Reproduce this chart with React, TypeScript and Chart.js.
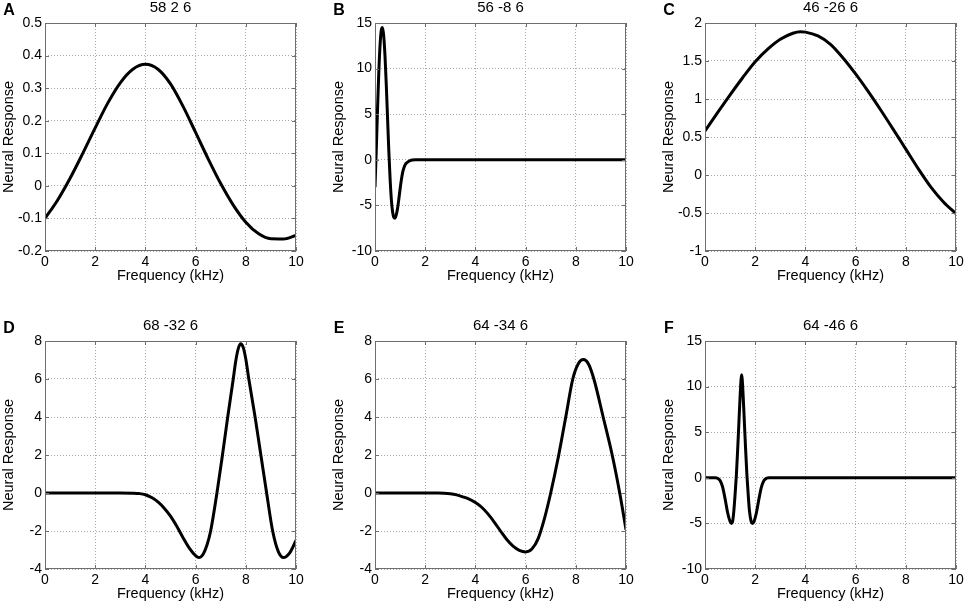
import React, { useEffect, useRef } from "react";
import { Chart, registerables } from "chart.js";

Chart.register(...registerables);

// ---------------- data ----------------
const PANEL_LETTERS = ["A", "B", "C", "D", "E", "F"];
const PANEL_TITLES = ["58 2 6", "56 -8 6", "46 -26 6", "68 -32 6", "64 -34 6", "64 -46 6"];
const X_LABEL = "Frequency (kHz)";
const Y_LABEL = "Neural Response";
const X_TICKS = [0, 2, 4, 6, 8, 10];

const A_TICKS = [-0.2, -0.1, 0, 0.1, 0.2, 0.3, 0.4, 0.5];
const B_TICKS = [-10, -5, 0, 5, 10, 15];
const C_TICKS = [-1, -0.5, 0, 0.5, 1, 1.5, 2];
const D_TICKS = [-4, -2, 0, 2, 4, 6, 8];
const E_TICKS = [-4, -2, 0, 2, 4, 6, 8];
const F_TICKS = [-10, -5, 0, 5, 10, 15];

const A_FREQ = [0, 0.5, 1, 1.5, 2, 2.5, 3, 3.5, 4, 4.5, 5, 5.5, 6, 6.5, 7, 7.5, 8, 8.5, 9, 9.5, 10];
const A_RESP = [-0.1, -0.044, 0.0235, 0.099, 0.178, 0.254, 0.3165, 0.358, 0.373, 0.358, 0.313, 0.244, 0.164, 0.083, 0.007, -0.059, -0.1115, -0.1465, -0.1625, -0.163, -0.152];

const B_FREQ = [0, 0.05, 0.1, 0.15, 0.2, 0.25, 0.3, 0.35, 0.4, 0.45, 0.5, 0.55, 0.6, 0.65, 0.7, 0.75, 0.8, 0.85, 0.9, 0.95, 1.0, 1.05, 1.1, 1.15, 1.2, 1.3, 1.4, 1.5, 1.6, 2, 3, 4, 5, 6, 7, 8, 9, 10];
const B_RESP = [-3.0, 1.0, 5.5, 9.5, 12.5, 14.2, 14.5, 13.5, 11.3, 8.2, 4.6, 1.0, -2.0, -4.3, -5.7, -6.3, -6.4, -6.0, -5.3, -4.3, -3.2, -2.2, -1.4, -0.9, -0.55, -0.25, -0.08, -0.02, 0, 0, 0, 0, 0, 0, 0, 0, 0, 0];

const C_FREQ = [0, 0.5, 1, 1.5, 2, 2.5, 3, 3.5, 3.8, 4, 4.5, 5, 5.5, 6, 6.5, 7, 7.5, 8, 8.5, 9, 9.5, 10];
const C_RESP = [0.58, 0.82, 1.055, 1.28, 1.49, 1.655, 1.785, 1.865, 1.885, 1.88, 1.83, 1.72, 1.54, 1.33, 1.1, 0.855, 0.6, 0.34, 0.08, -0.16, -0.355, -0.51];

const D_FREQ = [0, 1, 2, 3, 3.5, 3.75, 4, 4.25, 4.5, 4.75, 5, 5.25, 5.5, 5.75, 6, 6.13, 6.3, 6.45, 6.6, 6.85, 7.07, 7.28, 7.5, 7.6, 7.7, 7.8, 7.9, 8.0, 8.12, 8.37, 8.6, 8.83, 9.07, 9.3, 9.5, 9.75, 10];
const D_RESP = [0, 0, 0, 0, -0.01, -0.03, -0.09, -0.24, -0.47, -0.8, -1.22, -1.75, -2.35, -2.9, -3.3, -3.4, -3.22, -2.75, -2.0, 0, 2, 4, 6, 6.95, 7.6, 7.85, 7.65, 7.05, 6, 4, 2, 0, -2, -3.1, -3.4, -3.15, -2.5];

const E_FREQ = [0, 1, 2, 2.5, 2.75, 3, 3.25, 3.5, 3.75, 4, 4.25, 4.5, 4.75, 5, 5.25, 5.5, 5.75, 6, 6.25, 6.5, 6.75, 7, 7.32, 7.6, 7.88, 8.1, 8.3, 8.5, 8.72, 9.09, 9.45, 9.75, 10];
const E_RESP = [0, 0, 0, 0, -0.01, -0.04, -0.1, -0.2, -0.32, -0.5, -0.75, -1.1, -1.53, -2.0, -2.45, -2.8, -3.02, -3.1, -2.95, -2.4, -1.35, 0, 2, 4, 6, 6.8, 7.02, 6.8, 6, 4, 2, 0, -1.93];

const F_FREQ = [0, 0.4, 0.5, 0.6, 0.7, 0.8, 0.9, 1.0, 1.05, 1.1, 1.15, 1.2, 1.25, 1.3, 1.35, 1.4, 1.46, 1.52, 1.57, 1.62, 1.67, 1.72, 1.77, 1.84, 1.89, 1.95, 2.05, 2.15, 2.25, 2.35, 2.45, 2.55, 3, 4, 5, 6, 7, 8, 9, 10];
const F_RESP = [0, 0, -0.05, -0.3, -1.0, -2.3, -3.8, -4.8, -5.0, -4.8, -3.6, -1.8, 0.3, 3.0, 6.0, 9.0, 11.3, 9.0, 6.0, 3.0, 0.3, -1.8, -3.6, -4.8, -5.0, -4.8, -3.8, -2.3, -1.0, -0.3, -0.05, 0, 0, 0, 0, 0, 0, 0, 0, 0];

const SERIES_FREQ = [A_FREQ, B_FREQ, C_FREQ, D_FREQ, E_FREQ, F_FREQ];
const SERIES_RESP = [A_RESP, B_RESP, C_RESP, D_RESP, E_RESP, F_RESP];
const SERIES_TICKS = [A_TICKS, B_TICKS, C_TICKS, D_TICKS, E_TICKS, F_TICKS];

// ---------------- layout / style ----------------
const FONT = "'Liberation Sans', Arial, Helvetica, sans-serif";
const PLOT_LEFTS = [45, 375, 705];
const PLOT_TOPS = [23, 341];
const PLOT_W = 251;
const PLOT_H = 228;
const Y_AXIS_W = 45;
const X_AXIS_H = 34;
const PAD_TOP = 23;
const PAD_RIGHT = 8;

const decorPlugin = {
  id: "decor",
  afterDraw(chart: any, _args: any, opts: any) {
    const { ctx, chartArea } = chart;
    const { left, top, right, bottom } = chartArea;
    const xs = chart.scales.x;
    const ys = chart.scales.y;
    ctx.save();
    // inward tick marks
    ctx.strokeStyle = "#6e6e6e";
    ctx.lineWidth = 1;
    ctx.beginPath();
    for (const v of opts.xTicks) {
      const px = Math.round(xs.getPixelForValue(v)) + 0.5;
      ctx.moveTo(px, bottom);
      ctx.lineTo(px, bottom - 4);
      ctx.moveTo(px, top);
      ctx.lineTo(px, top + 4);
    }
    for (const v of opts.yTicks) {
      const py = Math.round(ys.getPixelForValue(v)) + 0.5;
      ctx.moveTo(left, py);
      ctx.lineTo(left + 4, py);
      ctx.moveTo(right, py);
      ctx.lineTo(right - 4, py);
    }
    ctx.stroke();
    // box
    ctx.strokeRect(Math.round(left) + 0.5, Math.round(top) + 0.5, Math.round(right - left) - 1, Math.round(bottom - top) - 1);
    // title
    ctx.fillStyle = "#000";
    ctx.font = `15px ${FONT}`;
    ctx.textAlign = "center";
    ctx.textBaseline = "middle";
    ctx.fillText(opts.title, (left + right) / 2, top - 15);
    // panel letter
    ctx.font = `bold 16px ${FONT}`;
    ctx.fillText(opts.letter, left - 36, top - 12);
    ctx.restore();
  },
};

function Panel({ index }: { index: number }) {
  const ref = useRef<HTMLCanvasElement>(null);
  const col = index % 3;
  const row = Math.floor(index / 3);
  const left = PLOT_LEFTS[col] - Y_AXIS_W;
  const top = PLOT_TOPS[row] - PAD_TOP;
  const width = Y_AXIS_W + PLOT_W + PAD_RIGHT;
  const height = PAD_TOP + PLOT_H + X_AXIS_H;

  useEffect(() => {
    const canvas = ref.current;
    if (!canvas) return;
    const freq = SERIES_FREQ[index];
    const resp = SERIES_RESP[index];
    const yTicks = SERIES_TICKS[index];
    const chart = new Chart(canvas, {
      type: "line",
      data: {
        datasets: [
          {
            data: freq.map((f, i) => ({ x: f, y: resp[i] })),
            borderColor: "#000",
            borderWidth: 3,
            pointRadius: 0,
            fill: false,
            cubicInterpolationMode: "monotone",
          },
        ],
      },
      options: {
        animation: false,
        responsive: false,
        events: [],
        layout: { padding: { top: PAD_TOP, right: PAD_RIGHT, left: 0, bottom: 0 } },
        plugins: {
          legend: { display: false },
          tooltip: { enabled: false },
          title: { display: false },
          decor: { title: PANEL_TITLES[index], letter: PANEL_LETTERS[index], xTicks: X_TICKS, yTicks },
        } as any,
        scales: {
          x: {
            type: "linear",
            min: X_TICKS[0],
            max: X_TICKS[X_TICKS.length - 1],
            afterBuildTicks: (s: any) => {
              s.ticks = X_TICKS.map((v) => ({ value: v }));
            },
            afterFit: (s: any) => {
              s.height = X_AXIS_H;
              s.paddingLeft = 0;
              s.paddingRight = 0;
            },
            grid: { color: "#a8a8a8", lineWidth: 1, drawTicks: false },
            border: { display: false, dash: [1, 2] },
            ticks: {
              color: "#000",
              font: { family: FONT, size: 14 },
              padding: 3,
              maxRotation: 0,
              autoSkip: false,
              callback: (v: any) => String(v),
            },
            title: {
              display: true,
              text: X_LABEL,
              color: "#000",
              font: { family: FONT, size: 14.5 },
              padding: { top: 0, bottom: 0 },
            },
          },
          y: {
            type: "linear",
            min: yTicks[0],
            max: yTicks[yTicks.length - 1],
            afterBuildTicks: (s: any) => {
              s.ticks = yTicks.map((v) => ({ value: v }));
            },
            afterFit: (s: any) => {
              s.width = Y_AXIS_W;
              s.paddingTop = 0;
              s.paddingBottom = 0;
            },
            grid: { color: "#a8a8a8", lineWidth: 1, drawTicks: false },
            border: { display: false, dash: [1, 2] },
            ticks: {
              color: "#000",
              font: { family: FONT, size: 14 },
              padding: 3,
              autoSkip: false,
              callback: (v: any) => String(v),
            },
            title: {
              display: true,
              text: Y_LABEL,
              color: "#000",
              font: { family: FONT, size: 14.5 },
              padding: { top: 0, bottom: 0 },
            },
          },
        },
      },
      plugins: [decorPlugin as any],
    } as any);
    return () => chart.destroy();
  }, [index]);

  return (
    <canvas
      ref={ref}
      width={width}
      height={height}
      style={{ position: "absolute", left, top, width, height }}
    />
  );
}

export default function App() {
  return (
    <div
      style={{
        position: "absolute",
        left: 0,
        top: 0,
        width: 964,
        height: 603,
        overflow: "hidden",
        background: "#fff",
      }}
    >
      {[0, 1, 2, 3, 4, 5].map((i) => (
        <Panel key={i} index={i} />
      ))}
    </div>
  );
}
